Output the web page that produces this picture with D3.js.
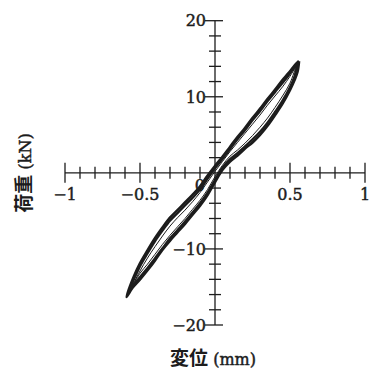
<!DOCTYPE html>
<html>
<head>
<meta charset="utf-8">
<script src="https://cdn.jsdelivr.net/npm/d3@7"></script>
<style>
  html, body { margin: 0; padding: 0; background: #fff; }
  svg { display: block; }
</style>
</head>
<body>
<svg id="chart" width="371" height="370"></svg>
<script>
// ---- data ----
const xTickValues = [-1, -0.5, 0.5, 1];
const xTickLabels = ["\u22121", "\u22120.5", "0.5", "1"];
const xMinorTicks = [-0.9,-0.8,-0.7,-0.6,-0.4,-0.3,-0.2,-0.1,0.1,0.2,0.3,0.4,0.6,0.7,0.8,0.9];
const yTickValues = [20, 10, -10, -20];
const yTickLabels = ["20", "10", "\u221210", "\u221220"];
const yMinorTicks = [-18,-16,-14,-12,-8,-6,-4,-2,2,4,6,8,12,14,16,18];
const xTitle = "変位";
const xUnit = " (mm)";
const yTitle = "荷重";
const yUnit = " (kN)";

// cycle 1 (outer): unloading branch then reloading branch  [displacement mm, load kN]
const loop1 = [
  [0.56,14.7],[0.53,14.1],[0.49,13.1],[0.45,12.2],[0.40,10.9],[0.35,9.7],[0.30,8.4],[0.25,7.2],
  [0.20,5.9],[0.15,4.7],[0.10,3.4],[0.05,2.1],[0.0,0.9],[-0.05,-0.4],[-0.10,-1.8],[-0.15,-2.9],
  [-0.20,-3.9],[-0.25,-4.9],[-0.30,-5.9],[-0.35,-7.2],[-0.40,-8.6],[-0.45,-10.2],[-0.50,-11.9],
  [-0.54,-13.6],[-0.59,-16.3],
  [-0.55,-15.1],[-0.50,-14.0],[-0.45,-12.8],[-0.40,-11.5],[-0.35,-10.1],[-0.30,-8.9],[-0.25,-7.8],
  [-0.20,-6.7],[-0.15,-5.5],[-0.10,-4.3],[-0.05,-2.9],[0.0,-1.2],[0.05,0.4],[0.10,1.5],[0.15,2.3],
  [0.20,3.2],[0.25,4.0],[0.30,5.0],[0.35,6.2],[0.40,7.6],[0.45,9.1],[0.50,10.9],[0.53,12.2],
  [0.55,13.3],[0.56,14.7]
];
// cycle 2
const loop2 = [
  [0.55,14.4],[0.52,13.6],[0.49,12.8],[0.45,11.8],[0.40,10.6],[0.35,9.4],[0.30,8.1],[0.25,6.9],
  [0.20,5.6],[0.15,4.4],[0.10,3.1],[0.05,1.8],[0.0,0.6],[-0.05,-0.8],[-0.10,-2.2],[-0.15,-3.3],
  [-0.20,-4.3],[-0.25,-5.3],[-0.30,-6.3],[-0.35,-7.6],[-0.40,-9.0],[-0.45,-10.6],[-0.50,-12.3],
  [-0.54,-14.0],[-0.58,-15.9],
  [-0.55,-14.9],[-0.50,-13.7],[-0.45,-12.5],[-0.40,-11.2],[-0.35,-9.9],[-0.30,-8.6],[-0.25,-7.5],
  [-0.20,-6.4],[-0.15,-5.2],[-0.10,-4.0],[-0.05,-2.6],[0.0,-0.9],[0.05,0.7],[0.10,1.8],[0.15,2.6],
  [0.20,3.5],[0.25,4.4],[0.30,5.4],[0.35,6.6],[0.40,8.0],[0.45,9.5],[0.50,11.3],[0.53,12.7],
  [0.55,14.4]
];
// cycle 3 (inner, thin)
const loop3 = [
  [0.54,14.0],[0.50,12.7],[0.45,11.3],[0.40,10.1],[0.35,8.9],[0.30,7.6],[0.25,6.4],[0.20,5.2],
  [0.15,4.0],[0.10,2.8],[0.05,1.5],[0.0,0.2],[-0.05,-1.2],[-0.10,-2.6],[-0.15,-3.8],[-0.20,-4.9],
  [-0.25,-5.9],[-0.30,-7.0],[-0.35,-8.3],[-0.40,-9.7],[-0.45,-11.2],[-0.50,-12.9],[-0.56,-15.2],
  [-0.50,-13.2],[-0.45,-12.0],[-0.40,-10.7],[-0.35,-9.4],[-0.30,-8.2],[-0.25,-7.1],[-0.20,-6.0],
  [-0.15,-4.8],[-0.10,-3.6],[-0.05,-2.2],[0.0,-0.5],[0.05,1.0],[0.10,2.2],[0.15,3.0],[0.20,3.9],
  [0.25,4.9],[0.30,6.0],[0.35,7.2],[0.40,8.6],[0.45,10.1],[0.50,11.8],[0.54,14.0]
];

// ---- drawing ----
const svg = d3.select("#chart");
const x = d3.scaleLinear().domain([-1, 1]).range([65, 365]);
const y = d3.scaleLinear().domain([-20, 20]).range([325, 20.7]);
const ink = "#1c1c1c";
const numFont = "'DejaVu Serif', serif";
const cjkFont = "'Noto Sans CJK JP', sans-serif";

const axes = svg.append("g").attr("stroke", ink).attr("stroke-width", 1.3);
axes.append("line").attr("x1", x(-1)).attr("x2", x(1)).attr("y1", y(0)).attr("y2", y(0));
axes.append("line").attr("x1", x(0)).attr("x2", x(0)).attr("y1", y(20)).attr("y2", y(-20));
axes.selectAll(".xmaj").data(xTickValues).join("line")
  .attr("x1", d => x(d)).attr("x2", d => x(d)).attr("y1", y(0) - 10).attr("y2", y(0) + 10);
axes.selectAll(".xmin").data(xMinorTicks).join("line")
  .attr("x1", d => x(d)).attr("x2", d => x(d)).attr("y1", y(0) - 6).attr("y2", y(0) + 6);
axes.selectAll(".ymaj").data(yTickValues).join("line")
  .attr("x1", x(0) - 10).attr("x2", x(0) + 8).attr("y1", d => y(d)).attr("y2", d => y(d));
axes.selectAll(".ymin").data(yMinorTicks).join("line")
  .attr("x1", x(0) - 6).attr("x2", x(0) + 6).attr("y1", d => y(d)).attr("y2", d => y(d));

// curves
const line = d3.line().x(d => x(d[0])).y(d => y(d[1])).curve(d3.curveCatmullRom.alpha(0.5));
const loops = [
  { data: loop1, w: 2.7 },
  { data: loop2, w: 2.2 },
  { data: loop3, w: 1.0 }
];
svg.append("g").selectAll("path").data(loops).join("path")
  .attr("d", d => line(d.data))
  .attr("fill", "none").attr("stroke", ink)
  .attr("stroke-width", d => d.w).attr("stroke-linejoin", "round");

// tick labels
const labels = svg.append("g").attr("fill", ink).attr("stroke", ink).attr("stroke-width", 0.45)
  .attr("font-family", numFont).attr("font-size", 16);
labels.selectAll(".xl").data(xTickValues).join("text")
  .attr("x", d => x(d)).attr("y", y(0) + 27)
  .attr("text-anchor", "middle")
  .text((d, i) => xTickLabels[i]);
labels.selectAll(".yl").data(yTickValues).join("text")
  .attr("x", x(0) - 9).attr("y", d => y(d)).attr("dy", "0.36em")
  .attr("text-anchor", "end")
  .text((d, i) => yTickLabels[i]);
labels.append("text").attr("x", x(0) - 10).attr("y", y(0) + 18)
  .attr("text-anchor", "end").text("0");

// axis titles
const xt = svg.append("text").attr("x", 213).attr("y", 365)
  .attr("text-anchor", "middle").attr("fill", ink);
xt.append("tspan").attr("font-family", cjkFont).attr("font-weight", 700).attr("font-size", 19).text(xTitle);
xt.append("tspan").attr("font-family", numFont).attr("font-size", 16)
  .attr("stroke", ink).attr("stroke-width", 0.45).text(xUnit);

const yt = svg.append("text")
  .attr("transform", `translate(31,173) rotate(-90)`)
  .attr("text-anchor", "middle").attr("fill", ink);
yt.append("tspan").attr("font-family", cjkFont).attr("font-weight", 700).attr("font-size", 19).text(yTitle);
yt.append("tspan").attr("font-family", numFont).attr("font-size", 16)
  .attr("stroke", ink).attr("stroke-width", 0.45).text(yUnit);
</script>
</body>
</html>
